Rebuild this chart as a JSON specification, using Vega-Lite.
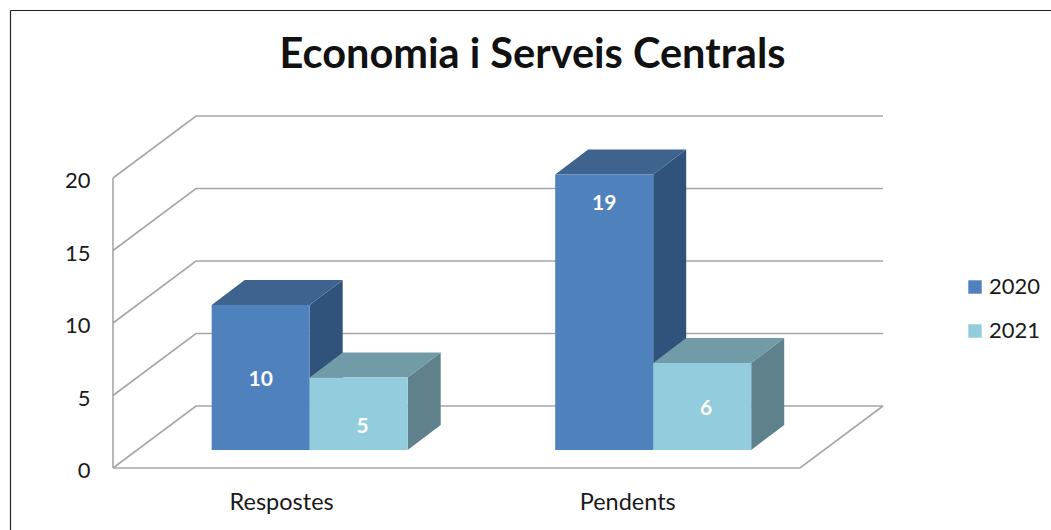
{
  "$schema": "https://vega.github.io/schema/vega-lite/v6.json",
  "width": 1041,
  "height": 520,
  "autosize": "none",
  "padding": {"left": 10, "top": 10, "right": 0, "bottom": 0},
  "background": "white",
  "title": {
    "text": "Economia i Serveis Centrals",
    "font": "Lato",
    "fontWeight": "bold",
    "fontSize": 41.5,
    "color": "#111111",
    "anchor": "middle",
    "frame": "group",
    "baseline": "alphabetic",
    "dx": 2,
    "dy": 99,
    "offset": 0
  },
  "config": {
    "view": {"stroke": null},
    "font": "Lato"
  },
  "datasets": {
    "answers": [
      {"category": "Respostes", "year": "2020", "value": 10},
      {"category": "Respostes", "year": "2021", "value": 5},
      {"category": "Pendents", "year": "2020", "value": 19},
      {"category": "Pendents", "year": "2021", "value": 6}
    ],
    "levels": [
      {"level": 0},
      {"level": 5},
      {"level": 10},
      {"level": 15},
      {"level": 20}
    ]
  },
  "encoding": {
    "x": {
      "field": "px", "type": "quantitative",
      "scale": {"domain": [-0.29985, 2.7307], "nice": false, "zero": false},
      "axis": {
        "orient": "top", "title": null, "values": [0.4895, 1.497],
        "labelExpr": "datum.value < 1 ? 'Respostes' : 'Pendents'",
        "grid": false, "ticks": false, "domain": true,
        "domainColor": "#222222", "domainWidth": 1.2,
        "labelFont": "Lato", "labelFontSize": 23.5, "labelColor": "#1A1A1A",
        "labelBaseline": "alphabetic", "labelPadding": -499, "labelFlush": false, "labelOverlap": false
      }
    },
    "y": {
      "field": "py", "type": "quantitative",
      "scale": {"domain": [-4.276, 31.586], "nice": false, "zero": false},
      "axis": {
        "orient": "left", "title": null, "values": [0, 5, 10, 15, 20],
        "grid": false, "ticks": false, "domain": true,
        "domainColor": "#222222", "domainWidth": 1.2,
        "labelFont": "Lato", "labelFontSize": 22, "labelColor": "#1A1A1A",
        "labelPadding": -80, "labelOffset": 3, "labelFlush": false, "labelOverlap": false
      }
    }
  },
  "layer": [
    {
      "description": "Walls: each level runs up the left wall, then along the back wall",
      "data": {"name": "levels"},
      "transform": [
        {"calculate": "[0, 1, 2]", "as": "vertex"},
        {"flatten": ["vertex"]},
        {"calculate": "[0, 0.2416, 2.2416][datum.vertex]", "as": "px"},
        {"calculate": "datum.level + (datum.vertex > 0 ? 4.276 : 0)", "as": "py"}
      ],
      "mark": {"type": "line", "stroke": "#A6A6A6", "strokeWidth": 1.6, "interpolate": "linear"},
      "encoding": {
        "detail": {"field": "level"},
        "order": {"field": "vertex"}
      }
    },
    {
      "description": "Floor front edge and right edge, plus the upright of the value scale",
      "data": {"name": "levels"},
      "transform": [
        {"filter": "datum.level === 0 || datum.level === 20"},
        {"calculate": "datum.level === 0 ? [0, 1, 2] : [0, 1]", "as": "vertex"},
        {"flatten": ["vertex"]},
        {"calculate": "datum.level === 0 ? [0, 2, 2.2416][datum.vertex] : 0", "as": "px"},
        {"calculate": "datum.level === 0 ? [0, 0, 4.276][datum.vertex] : 20 * datum.vertex", "as": "py"}
      ],
      "mark": {"type": "line", "stroke": "#A6A6A6", "strokeWidth": 1.6, "interpolate": "linear"},
      "encoding": {
        "detail": {"field": "level"},
        "order": {"field": "vertex"}
      }
    },
    {
      "description": "Right-hand side of each bar",
      "data": {"name": "answers"},
      "transform": [
        {"calculate": "indexof(['Respostes', 'Pendents'], datum.category) + 0.2873 + indexof(['2020', '2021'], datum.year) * 0.2853", "as": "left"},
        {"calculate": "datum.left + 0.2853", "as": "right"},
        {"calculate": "1.241 + datum.value", "as": "crown"},
        {"calculate": "[0, 1]", "as": "vertex"},
        {"flatten": ["vertex"]},
        {"calculate": "datum.right + datum.vertex * 0.0961", "as": "px"},
        {"calculate": "datum.crown + datum.vertex * 1.724", "as": "py"},
        {"calculate": "1.241 + datum.vertex * 1.724", "as": "py2"},
        {"calculate": "datum.category + datum.year", "as": "bar"},
        {"calculate": "datum.year === '2020' ? '#31537B' : '#5F818C'", "as": "shade"}
      ],
      "mark": {"type": "area", "opacity": 1},
      "encoding": {
        "y2": {"field": "py2"},
        "detail": {"field": "bar"},
        "fill": {"field": "shade", "type": "nominal", "scale": null, "legend": null}
      }
    },
    {
      "description": "Top of each bar",
      "data": {"name": "answers"},
      "transform": [
        {"calculate": "indexof(['Respostes', 'Pendents'], datum.category) + 0.2873 + indexof(['2020', '2021'], datum.year) * 0.2853", "as": "left"},
        {"calculate": "datum.left + 0.2853", "as": "right"},
        {"calculate": "1.241 + datum.value", "as": "crown"},
        {"calculate": "[0, 1, 2, 3]", "as": "vertex"},
        {"flatten": ["vertex"]},
        {"calculate": "[datum.left, datum.left + 0.0961, datum.right, datum.right + 0.0961][datum.vertex]", "as": "px"},
        {"calculate": "datum.crown + (datum.vertex > 0 ? 1.724 : 0)", "as": "py"},
        {"calculate": "datum.crown + (datum.vertex > 2 ? 1.724 : 0)", "as": "py2"},
        {"calculate": "datum.category + datum.year", "as": "bar"},
        {"calculate": "datum.year === '2020' ? '#3E638F' : '#729BA8'", "as": "shade"}
      ],
      "mark": {"type": "area", "opacity": 1},
      "encoding": {
        "y2": {"field": "py2"},
        "detail": {"field": "bar"},
        "fill": {"field": "shade", "type": "nominal", "scale": null, "legend": null}
      }
    },
    {
      "description": "Front of each bar, which also carries the legend",
      "data": {"name": "answers"},
      "transform": [
        {"calculate": "indexof(['Respostes', 'Pendents'], datum.category) + 0.2873 + indexof(['2020', '2021'], datum.year) * 0.2853", "as": "px"},
        {"calculate": "datum.px + 0.2853", "as": "right"},
        {"calculate": "1.241 + datum.value", "as": "py"},
        {"calculate": "1.241", "as": "base"}
      ],
      "mark": {"type": "rect"},
      "encoding": {
        "x2": {"field": "right"},
        "y2": {"field": "base"},
        "color": {
          "field": "year", "type": "nominal",
          "scale": {"domain": ["2020", "2021"], "range": ["#4F81BD", "#93CDDD"]},
          "legend": {
            "orient": "none", "legendX": 954, "legendY": 266, "title": null,
            "symbolType": "square", "symbolSize": 180, "symbolStrokeWidth": 0, "symbolOpacity": 1,
            "labelFont": "Lato", "labelFontSize": 22, "labelColor": "#1A1A1A", "labelOffset": 3,
            "rowPadding": 22, "padding": 0
          }
        }
      }
    },
    {
      "description": "Value labels, placed part-way up each bar",
      "data": {"name": "answers"},
      "transform": [
        {"calculate": "indexof(['Respostes', 'Pendents'], datum.category) + 0.2873 + indexof(['2020', '2021'], datum.year) * 0.2969 + 0.14265", "as": "px"},
        {"calculate": "datum.value === 19 ? 0.9 : datum.value === 5 ? 0.345 : 0.5", "as": "share"},
        {"calculate": "1.241 + datum.value * datum.share", "as": "py"}
      ],
      "mark": {"type": "text", "font": "Lato", "fontWeight": "bold", "fontSize": 21, "color": "white", "baseline": "middle", "align": "center", "dy": 2},
      "encoding": {
        "text": {"field": "value", "type": "quantitative"}
      }
    }
  ]
}
